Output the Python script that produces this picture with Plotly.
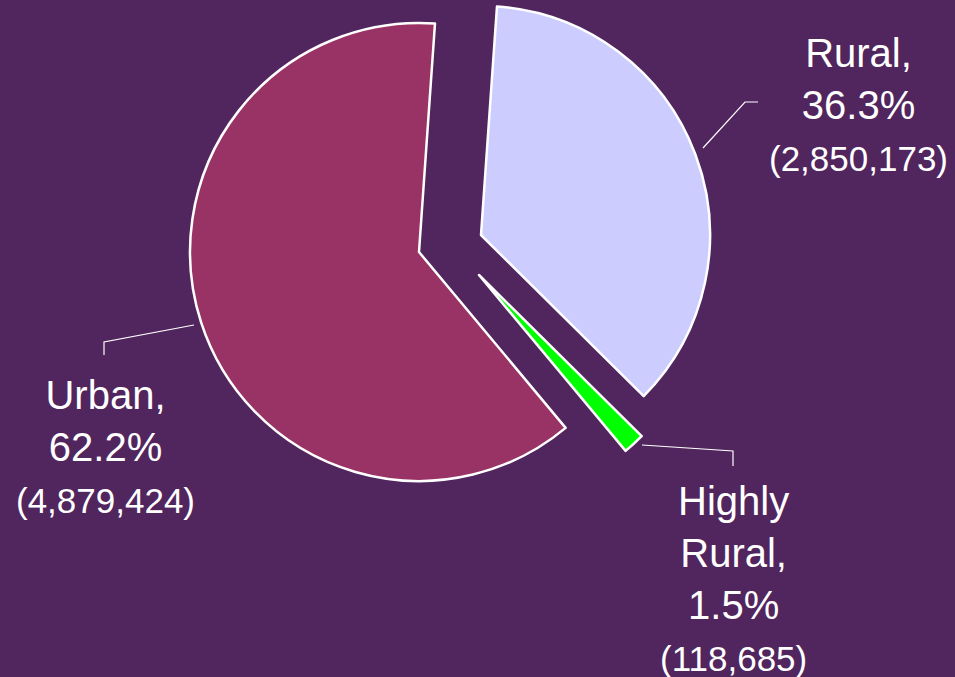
import plotly.graph_objects as go

# ---- data ----
categories = ["Urban", "Highly Rural", "Rural"]
values = [4879424, 118685, 2850173]
colors = ["#993366", "#00FF00", "#CCCCFF"]

# layout helpers (pixel geometry of each pulled slice's apex)
W, H = 955, 677
R = 229
START_ANGLE = 4  # degrees clockwise from 12 o'clock where Urban/Rural meet
apex = {"Urban": (419, 252), "Highly Rural": (479, 275), "Rural": (481, 235)}
label_pos = {"Urban": (105, 446), "Highly Rural": (733, 578), "Rural": (858, 105)}
leaders = {
    "Urban": [(194, 325), (104, 342), (104, 355)],
    "Highly Rural": [(642, 445), (733, 451), (733, 466)],
    "Rural": [(703, 148), (745, 102), (758, 102)],
}
BG = "#51255D"
TRANSP = "rgba(0,0,0,0)"

fig = go.Figure()
total = sum(values)
rotation = START_ANGLE - 360 * values[0] / total
for i, cat in enumerate(categories):
    cx, cy = apex[cat]
    mcolors = [colors[j] if j == i else TRANSP for j in range(len(categories))]
    lwidth = [2.5 if j == i else 0 for j in range(len(categories))]
    fig.add_trace(go.Pie(
        labels=categories,
        values=values,
        sort=False,
        direction="counterclockwise",
        rotation=rotation,
        marker=dict(colors=mcolors, line=dict(color="white", width=lwidth)),
        textinfo="none",
        hoverinfo="skip",
        showlegend=False,
        domain=dict(x=[(cx - R) / W, (cx + R) / W],
                    y=[(H - cy - R) / H, (H - cy + R) / H]),
    ))

annotations = []
for cat, v in zip(categories, values):
    pct = 100 * v / total
    name = cat.replace(" ", "<br>")
    txt = f"{name},<br>{pct:.1f}%<br><span style='font-size:35px'>({v:,})</span>"
    x, y = label_pos[cat]
    annotations.append(dict(
        x=x / W, y=1 - y / H, xref="paper", yref="paper",
        text=txt, showarrow=False, xanchor="center", yanchor="middle",
        align="center",
        font=dict(family="Liberation Sans, Arial, sans-serif", size=40, color="white"),
    ))

shapes = []
for cat, pts in leaders.items():
    path = "M " + " L ".join(f"{px / W},{1 - py / H}" for px, py in pts)
    shapes.append(dict(type="path", xref="paper", yref="paper", path=path,
                       line=dict(color="white", width=1.2)))

fig.update_layout(
    width=W, height=H,
    margin=dict(l=0, r=0, t=0, b=0),
    paper_bgcolor=BG, plot_bgcolor=BG,
    annotations=annotations, shapes=shapes,
)
fig.write_html(
    "out.html",
    config={"displayModeBar": False},
    post_script=f"document.body.style.margin='0';document.body.style.background='{BG}';document.body.style.overflow='hidden';",
)
